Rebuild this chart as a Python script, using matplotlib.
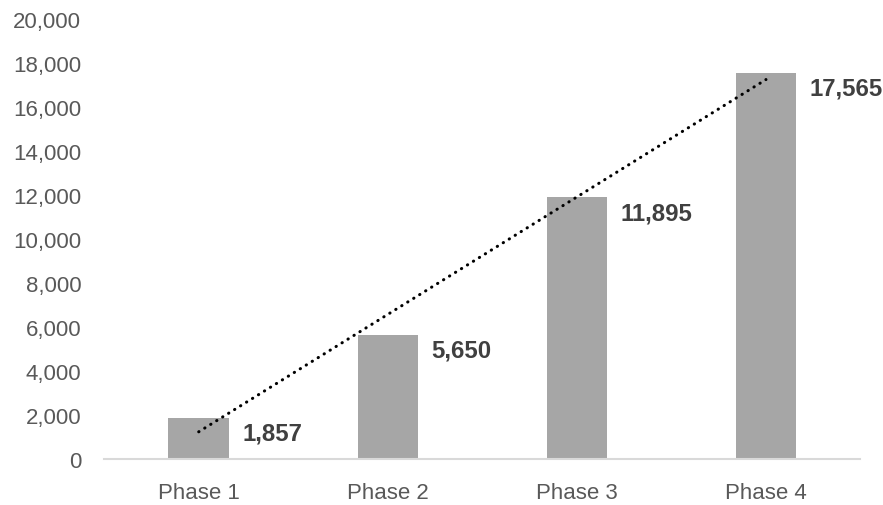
import numpy as np
import matplotlib.pyplot as plt
from matplotlib.ticker import FuncFormatter

plt.rcParams['font.family'] = ['Liberation Sans', 'DejaVu Sans']

phases = ['Phase 1', 'Phase 2', 'Phase 3', 'Phase 4']
values = [1857, 5650, 11895, 17565]

x = np.arange(len(phases))
width = 0.32

fig = plt.figure(figsize=(8.83, 5.06), dpi=100)
ax = fig.add_axes([0.118, 0.0909, 0.8565, 0.8696])

ax.bar(x, values, width=width, color='#A6A6A6', zorder=2)

# linear trendline, like Excel's
slope, icpt = np.polyfit(x + 1, values, 1)
ax.plot(x, slope * (x + 1) + icpt, color='black', lw=2.2,
        linestyle=(0, (0.1, 2.2)), dash_capstyle='round', zorder=3)

for xi, v in zip(x, values):
    ax.annotate(f'{v:,}', xy=(xi + width / 2, v), xytext=(9.5, -11),
                textcoords='offset points', ha='left', va='center',
                fontsize=17.3, fontweight='bold', color='#404040')

ax.set_xlim(-0.5, 3.5)
ax.set_ylim(0, 20000)
ax.set_yticks(np.arange(0, 20001, 2000))
ax.yaxis.set_major_formatter(FuncFormatter(lambda v, p: f'{int(v):,}'))
ax.set_xticks(x)
ax.set_xticklabels(phases)

for s in ['top', 'right', 'left']:
    ax.spines[s].set_visible(False)
ax.spines['bottom'].set_color('#D9D9D9')
ax.spines['bottom'].set_linewidth(1.5)
ax.tick_params(axis='both', length=0, labelsize=16, colors='#595959')
ax.tick_params(axis='y', pad=16.5)
ax.tick_params(axis='x', pad=16.5)

fig.savefig('out.png', dpi=100)
